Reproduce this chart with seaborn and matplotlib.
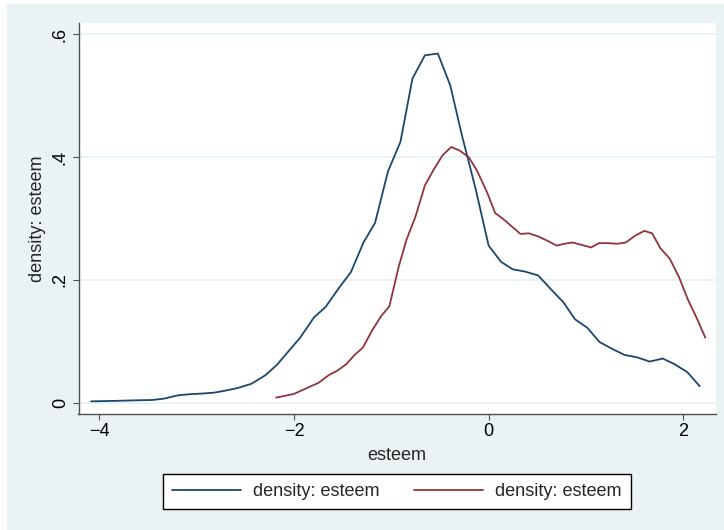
import pandas as pd
import seaborn as sns
import matplotlib.pyplot as plt
from matplotlib.patches import Rectangle

# kernel density estimate of esteem, first sample (navy)
x_blue = [-4.085, -3.834, -3.597, -3.454, -3.336, -3.193, -3.075, -2.932, -2.814, -2.695,
          -2.577, -2.434, -2.292, -2.173, -2.055, -1.936, -1.794, -1.675, -1.533, -1.414,
          -1.286, -1.167, -1.034, -0.906, -0.783, -0.655, -0.522, -0.394, -0.275, -0.133,
          0.000, 0.128, 0.247, 0.375, 0.508, 0.636, 0.769, 0.887, 1.015, 1.138,
          1.266, 1.394, 1.527, 1.655, 1.788, 1.907, 2.040, 2.168]
y_blue = [0.0022, 0.0030, 0.0040, 0.0044, 0.0066, 0.0120, 0.0138, 0.0150, 0.0165, 0.0200,
          0.0240, 0.0310, 0.0450, 0.0620, 0.0840, 0.1060, 0.1390, 0.1560, 0.1880, 0.2130,
          0.2610, 0.2930, 0.3770, 0.4250, 0.5280, 0.5660, 0.5690, 0.5170, 0.4360, 0.3480,
          0.2560, 0.2295, 0.2174, 0.2136, 0.2075, 0.1855, 0.1635, 0.1360, 0.1220, 0.0990,
          0.0880, 0.0780, 0.0738, 0.0670, 0.0720, 0.0630, 0.0500, 0.0270]

# kernel density estimate of esteem, second sample (maroon)
x_red = [-2.183, -2.000, -1.879, -1.746, -1.642, -1.556, -1.461, -1.376, -1.291, -1.200,
         -1.105, -1.020, -0.925, -0.845, -0.750, -0.655, -0.560, -0.474, -0.384, -0.299,
         -0.204, -0.119, -0.014, 0.067, 0.152, 0.247, 0.327, 0.413, 0.508, 0.603,
         0.698, 0.778, 0.863, 0.958, 1.053, 1.134, 1.219, 1.323, 1.409, 1.504,
         1.599, 1.680, 1.765, 1.860, 1.955, 2.050, 2.135, 2.226]
y_red = [0.0083, 0.0143, 0.0230, 0.0325, 0.0450, 0.0520, 0.0630, 0.0780, 0.0900, 0.1170,
         0.1410, 0.1570, 0.2210, 0.2650, 0.3040, 0.3540, 0.3810, 0.4030, 0.4167, 0.4110,
         0.4000, 0.3780, 0.3420, 0.3090, 0.2990, 0.2860, 0.2750, 0.2760, 0.2710, 0.2640,
         0.2560, 0.2590, 0.2610, 0.2570, 0.2530, 0.2600, 0.2600, 0.2590, 0.2610, 0.2720,
         0.2800, 0.2760, 0.2515, 0.2350, 0.2050, 0.1670, 0.1390, 0.1060]

xticks = [-4, -2, 0, 2]
yticks = [0, 0.2, 0.4, 0.6]
ytick_labels = ["0", ".2", ".4", ".6"]
legend_labels = ["density: esteem", "density: esteem"]

NAVY = "#1A476F"
MAROON = "#90353B"
BG = "#EAF2F3"

sns.set_theme(style="white")
plt.rcParams["font.family"] = ["Liberation Sans", "DejaVu Sans"]
FS = 13.1

df_blue = pd.DataFrame({"esteem": x_blue, "density": y_blue})
df_red = pd.DataFrame({"esteem": x_red, "density": y_red})

fig = plt.figure(figsize=(7.24, 5.30), dpi=100, facecolor="white")
# stata-like outer background (screenshot has a thin white margin top/left)
fig.patches.append(Rectangle((7 / 724, 0), 1, 526 / 530, transform=fig.transFigure,
                             facecolor=BG, edgecolor="none", zorder=-1))

ax = fig.add_axes([78.5 / 724, 115.7 / 530, (716 - 78.5) / 724, (507 - 115.7) / 530])
ax.set_facecolor("white")

sns.lineplot(data=df_blue, x="esteem", y="density", color=NAVY, lw=1.3,
             label=legend_labels[0], errorbar=None, ax=ax)
sns.lineplot(data=df_red, x="esteem", y="density", color=MAROON, lw=1.3,
             label=legend_labels[1], errorbar=None, ax=ax)

ax.set_xlim(-4.2137, 2.336)
ax.set_ylim(-0.0189, 0.6187)
ax.set_xticks(xticks)
ax.set_yticks(yticks)
ax.set_yticklabels(ytick_labels, rotation=90, va="center")
ax.yaxis.grid(True, color=BG, lw=1.3)
ax.set_axisbelow(True)

for s in ["top", "right"]:
    ax.spines[s].set_visible(False)
for s in ["left", "bottom"]:
    ax.spines[s].set_color("#505050")
    ax.spines[s].set_linewidth(1.0)

ax.tick_params(axis="both", which="major", length=4, width=0.8, color="#505050",
               labelsize=FS, labelcolor="black", direction="out", bottom=True, left=True)
ax.tick_params(axis="x", pad=2)
ax.tick_params(axis="y", pad=3)

ax.set_xlabel("esteem", fontsize=FS, labelpad=5)
ax.set_ylabel("density: esteem", fontsize=FS, labelpad=4)

handles, labels = ax.get_legend_handles_labels()
ax.get_legend().remove()
leg = fig.legend(handles, labels, loc="center", bbox_to_anchor=(397 / 724, 38.5 / 530),
                 ncol=2, fontsize=FS, frameon=True, fancybox=False, shadow=False,
                 handlelength=3.8, handletextpad=0.65, columnspacing=1.9,
                 borderpad=0.5, borderaxespad=0)
leg.get_frame().set_edgecolor("black")
leg.get_frame().set_linewidth(1.0)
leg.get_frame().set_facecolor("white")
leg.get_frame().set_alpha(1)

fig.savefig("out.png", dpi=100, facecolor=fig.get_facecolor())
